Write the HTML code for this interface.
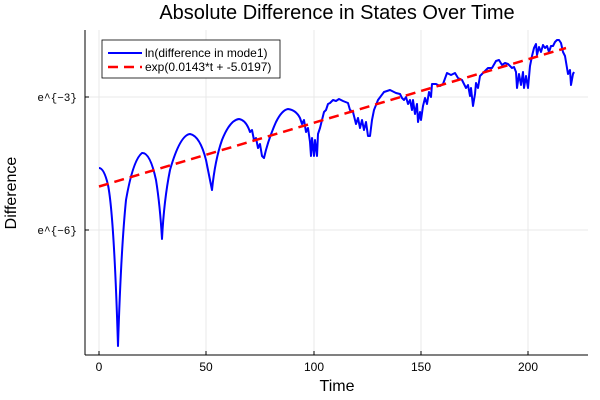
<!DOCTYPE html>
<html><head><style>body{margin:0;background:#fff}svg{display:block}</style></head><body>
<svg width="600" height="400" xmlns="http://www.w3.org/2000/svg" font-family="Liberation Sans, sans-serif">
<rect width="600" height="400" fill="#fff"/>
<g stroke="#e8e8e8" stroke-width="1">
<line x1="99" y1="30" x2="99" y2="355"/><line x1="206" y1="30" x2="206" y2="355"/><line x1="314" y1="30" x2="314" y2="355"/><line x1="421" y1="30" x2="421" y2="355"/><line x1="528" y1="30" x2="528" y2="355"/>
<line x1="85" y1="97" x2="588" y2="97"/><line x1="85" y1="230" x2="588" y2="230"/>
</g>
<g stroke="#000" stroke-width="1"><line x1="85" y1="355" x2="588" y2="355"/><line x1="85" y1="30" x2="85" y2="355"/>
<line x1="99" y1="355" x2="99" y2="351"/><line x1="206" y1="355" x2="206" y2="351"/><line x1="314" y1="355" x2="314" y2="351"/><line x1="421" y1="355" x2="421" y2="351"/><line x1="528" y1="355" x2="528" y2="351"/>
<line x1="85" y1="97" x2="89" y2="97"/><line x1="85" y1="230" x2="89" y2="230"/></g>
<g font-size="12" fill="#000" text-anchor="middle">
<text x="99" y="371">0</text><text x="206" y="371">50</text><text x="314" y="371">100</text><text x="421" y="371">150</text><text x="528" y="371">200</text></g>
<g font-size="11" fill="#000" text-anchor="end" font-family="Liberation Mono, monospace"><text x="77" y="101">e^{−3}</text><text x="77" y="234">e^{−6}</text></g>
<text x="337" y="391" font-size="16" text-anchor="middle">Time</text>
<text x="16" y="193" font-size="16" text-anchor="middle" transform="rotate(-90 16 193)">Difference</text>
<text x="337" y="19" font-size="20" text-anchor="middle">Absolute Difference in States Over Time</text>
<path fill="none" stroke="#0000ff" stroke-width="2" stroke-linejoin="round" d="M99,168 Q104,168 108,185 Q114,215 118,346 Q121,250 126,200 Q133,160 142,153 Q150,152 156,180 Q160,205 162,239 Q164,200 170,170 Q180,135 190,134 Q200,136 206,160 L210,180 L212,190 Q215,160 222,140 Q230,120 239,119 Q246,120 250,132 L252,130 L254,140 L256,138 L258,148 L260,144 L262,156 L264,158 Q268,140 276,122 Q282,110 288,109 Q296,110 300,118 L302,124 L304,120 L306,132 L308,128 L310,142 L311,156 L312,138 L314,156 L315,140 L317,156 L318,134 L320,128 L322,120 L324,112 L326,110 L328,104 L330,103 L333,100 L336,101 L339,99 L343,101 L348,103 L350,110 L353,112 L356,124 L358,118 L360,128 L362,120 L364,130 L366,122 L368,136 L370,136 L372,120 L374,110 L378,100 L384,92 L390,90 L396,93 L400,94 L402,98 L404,100 L406,97 L408,104 L410,100 L412,110 L413,100 L415,114 L417,104 L418,122 L420,112 L421,120 L423,106 L425,98 L427,104 L429,92 L431,97 L432,84 L436,84 L440,86 L443,84 L447,73 L451,75 L455,73 L458,78 L462,80 L466,88 L468,85 L470,96 L471,88 L473,106 L475,94 L476,83 L478,88 L480,76 L484,72 L488,68 L492,68 L496,61 L499,60 L502,65 L505,63 L508,64 L512,68 L514,67 L516,72 L517,88 L519,74 L521,85 L523,72 L524,88 L526,76 L528,88 L530,66 L532,56 L534,48 L536,44 L537,55 L539,47 L541,52 L543,45 L545,48 L547,46 L549,52 L551,46 L553,46 L555,42 L557,40 L559,40 L561,43 L563,52 L565,56 L566,62 L568,74 L570,70 L571,85 L573,74 L574,72"/>
<line x1="99" y1="186.5" x2="566" y2="48" stroke="#ff0000" stroke-width="2.5" stroke-dasharray="10,6"/>
<rect x="102" y="40" width="178" height="38" fill="#fff" stroke="#000" stroke-width="0.8"/>
<line x1="108" y1="53" x2="142" y2="53" stroke="#0000ff" stroke-width="2"/>
<line x1="108" y1="67" x2="142" y2="67" stroke="#ff0000" stroke-width="2.5" stroke-dasharray="10,6"/>
<g font-size="12" fill="#000"><text x="145" y="57">ln(difference in mode1)</text><text x="145" y="71">exp(0.0143*t + -5.0197)</text></g>
</svg>
</body></html>
